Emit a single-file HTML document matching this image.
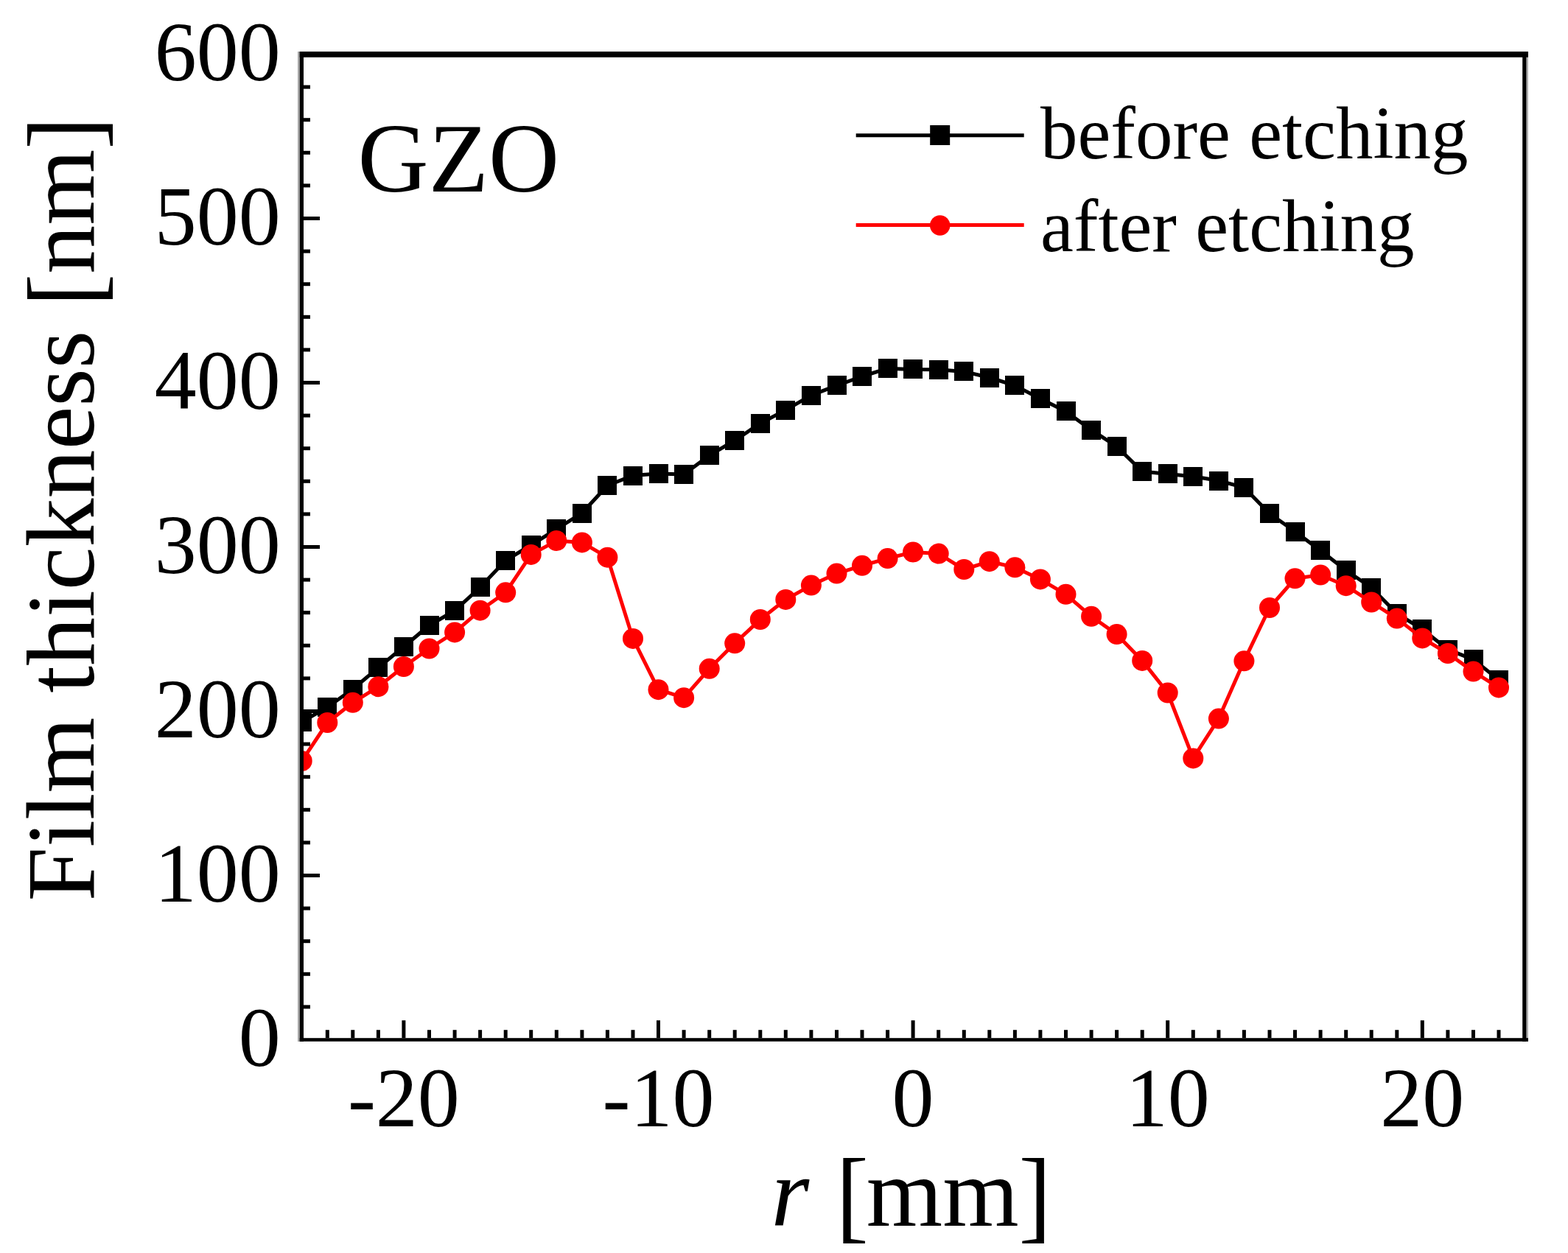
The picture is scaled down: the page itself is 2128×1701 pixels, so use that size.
<!DOCTYPE html>
<html><head><meta charset="utf-8"><title>Film thickness GZO</title>
<style>
html,body{margin:0;padding:0;background:#fff;}
body{width:2128px;height:1701px;overflow:hidden;}
svg{display:block;}
text{font-family:"Liberation Serif","Times New Roman",serif;fill:#000;}
</style></head><body>
<svg width="2128" height="1701" viewBox="0 0 2128 1701">
<rect x="0" y="0" width="2128" height="1701" fill="#fff"/>
<defs><clipPath id="pc"><rect x="412" y="78" width="1654" height="1331"/></clipPath></defs>
<g clip-path="url(#pc)">
<polyline points="409.7,980.0 444.3,960.0 478.8,935.5 513.4,906.4 547.9,878.0 582.5,849.0 617.1,829.0 651.6,797.3 686.2,760.9 720.7,740.0 755.3,718.3 789.9,696.5 824.4,659.0 859.0,645.6 893.5,642.9 928.1,644.0 962.7,618.2 997.2,598.0 1031.8,574.7 1066.3,556.6 1100.9,536.7 1135.5,523.4 1170.0,511.0 1204.6,500.2 1239.1,501.4 1273.7,501.7 1308.3,504.4 1342.8,512.5 1377.4,523.4 1411.9,541.2 1446.5,558.4 1481.1,583.7 1515.6,606.2 1550.2,640.0 1584.7,643.4 1619.3,646.8 1653.9,652.5 1688.4,661.8 1723.0,697.2 1757.5,721.5 1792.1,747.3 1826.7,774.3 1861.2,797.7 1895.8,833.0 1930.3,854.1 1964.9,881.7 1999.5,895.3 2034.0,922.9" fill="none" stroke="#000" stroke-width="5.0" stroke-linejoin="round"/>
<g fill="#000" shape-rendering="crispEdges"><rect x="396.7" y="967.0" width="26.0" height="26.0"/><rect x="431.3" y="947.0" width="26.0" height="26.0"/><rect x="465.8" y="922.5" width="26.0" height="26.0"/><rect x="500.4" y="893.4" width="26.0" height="26.0"/><rect x="534.9" y="865.0" width="26.0" height="26.0"/><rect x="569.5" y="836.0" width="26.0" height="26.0"/><rect x="604.1" y="816.0" width="26.0" height="26.0"/><rect x="638.6" y="784.3" width="26.0" height="26.0"/><rect x="673.2" y="747.9" width="26.0" height="26.0"/><rect x="707.7" y="727.0" width="26.0" height="26.0"/><rect x="742.3" y="705.3" width="26.0" height="26.0"/><rect x="776.9" y="683.5" width="26.0" height="26.0"/><rect x="811.4" y="646.0" width="26.0" height="26.0"/><rect x="846.0" y="632.6" width="26.0" height="26.0"/><rect x="880.5" y="629.9" width="26.0" height="26.0"/><rect x="915.1" y="631.0" width="26.0" height="26.0"/><rect x="949.7" y="605.2" width="26.0" height="26.0"/><rect x="984.2" y="585.0" width="26.0" height="26.0"/><rect x="1018.8" y="561.7" width="26.0" height="26.0"/><rect x="1053.3" y="543.6" width="26.0" height="26.0"/><rect x="1087.9" y="523.7" width="26.0" height="26.0"/><rect x="1122.5" y="510.4" width="26.0" height="26.0"/><rect x="1157.0" y="498.0" width="26.0" height="26.0"/><rect x="1191.6" y="487.2" width="26.0" height="26.0"/><rect x="1226.1" y="488.4" width="26.0" height="26.0"/><rect x="1260.7" y="488.7" width="26.0" height="26.0"/><rect x="1295.3" y="491.4" width="26.0" height="26.0"/><rect x="1329.8" y="499.5" width="26.0" height="26.0"/><rect x="1364.4" y="510.4" width="26.0" height="26.0"/><rect x="1398.9" y="528.2" width="26.0" height="26.0"/><rect x="1433.5" y="545.4" width="26.0" height="26.0"/><rect x="1468.1" y="570.7" width="26.0" height="26.0"/><rect x="1502.6" y="593.2" width="26.0" height="26.0"/><rect x="1537.2" y="627.0" width="26.0" height="26.0"/><rect x="1571.7" y="630.4" width="26.0" height="26.0"/><rect x="1606.3" y="633.8" width="26.0" height="26.0"/><rect x="1640.9" y="639.5" width="26.0" height="26.0"/><rect x="1675.4" y="648.8" width="26.0" height="26.0"/><rect x="1710.0" y="684.2" width="26.0" height="26.0"/><rect x="1744.5" y="708.5" width="26.0" height="26.0"/><rect x="1779.1" y="734.3" width="26.0" height="26.0"/><rect x="1813.7" y="761.3" width="26.0" height="26.0"/><rect x="1848.2" y="784.7" width="26.0" height="26.0"/><rect x="1882.8" y="820.0" width="26.0" height="26.0"/><rect x="1917.3" y="841.1" width="26.0" height="26.0"/><rect x="1951.9" y="868.7" width="26.0" height="26.0"/><rect x="1986.5" y="882.3" width="26.0" height="26.0"/><rect x="2021.0" y="909.9" width="26.0" height="26.0"/></g>
<polyline points="409.7,1033.0 444.3,981.0 478.8,953.8 513.4,932.2 547.9,905.0 582.5,880.5 617.1,858.4 651.6,828.7 686.2,804.3 720.7,752.9 755.3,734.1 789.9,736.4 824.4,756.7 859.0,866.9 893.5,936.2 928.1,947.2 962.7,907.8 997.2,873.3 1031.8,841.0 1066.3,813.9 1100.9,794.6 1135.5,778.6 1170.0,767.8 1204.6,758.1 1239.1,749.5 1273.7,751.6 1308.3,773.0 1342.8,762.2 1377.4,770.3 1411.9,786.4 1446.5,806.8 1481.1,836.8 1515.6,861.1 1550.2,896.9 1584.7,940.5 1619.3,1029.4 1653.9,975.6 1688.4,897.3 1723.0,825.0 1757.5,785.3 1792.1,780.5 1826.7,795.2 1861.2,817.5 1895.8,839.6 1930.3,866.4 1964.9,887.0 1999.5,911.6 2034.0,933.4" fill="none" stroke="#f00" stroke-width="5.0" stroke-linejoin="round"/>
<circle cx="409.7" cy="1033.0" r="14.00" fill="#f00"/><circle cx="444.3" cy="981.0" r="14.00" fill="#f00"/><circle cx="478.8" cy="953.8" r="14.00" fill="#f00"/><circle cx="513.4" cy="932.2" r="14.00" fill="#f00"/><circle cx="547.9" cy="905.0" r="14.00" fill="#f00"/><circle cx="582.5" cy="880.5" r="14.00" fill="#f00"/><circle cx="617.1" cy="858.4" r="14.00" fill="#f00"/><circle cx="651.6" cy="828.7" r="14.00" fill="#f00"/><circle cx="686.2" cy="804.3" r="14.00" fill="#f00"/><circle cx="720.7" cy="752.9" r="14.00" fill="#f00"/><circle cx="755.3" cy="734.1" r="14.00" fill="#f00"/><circle cx="789.9" cy="736.4" r="14.00" fill="#f00"/><circle cx="824.4" cy="756.7" r="14.00" fill="#f00"/><circle cx="859.0" cy="866.9" r="14.00" fill="#f00"/><circle cx="893.5" cy="936.2" r="14.00" fill="#f00"/><circle cx="928.1" cy="947.2" r="14.00" fill="#f00"/><circle cx="962.7" cy="907.8" r="14.00" fill="#f00"/><circle cx="997.2" cy="873.3" r="14.00" fill="#f00"/><circle cx="1031.8" cy="841.0" r="14.00" fill="#f00"/><circle cx="1066.3" cy="813.9" r="14.00" fill="#f00"/><circle cx="1100.9" cy="794.6" r="14.00" fill="#f00"/><circle cx="1135.5" cy="778.6" r="14.00" fill="#f00"/><circle cx="1170.0" cy="767.8" r="14.00" fill="#f00"/><circle cx="1204.6" cy="758.1" r="14.00" fill="#f00"/><circle cx="1239.1" cy="749.5" r="14.00" fill="#f00"/><circle cx="1273.7" cy="751.6" r="14.00" fill="#f00"/><circle cx="1308.3" cy="773.0" r="14.00" fill="#f00"/><circle cx="1342.8" cy="762.2" r="14.00" fill="#f00"/><circle cx="1377.4" cy="770.3" r="14.00" fill="#f00"/><circle cx="1411.9" cy="786.4" r="14.00" fill="#f00"/><circle cx="1446.5" cy="806.8" r="14.00" fill="#f00"/><circle cx="1481.1" cy="836.8" r="14.00" fill="#f00"/><circle cx="1515.6" cy="861.1" r="14.00" fill="#f00"/><circle cx="1550.2" cy="896.9" r="14.00" fill="#f00"/><circle cx="1584.7" cy="940.5" r="14.00" fill="#f00"/><circle cx="1619.3" cy="1029.4" r="14.00" fill="#f00"/><circle cx="1653.9" cy="975.6" r="14.00" fill="#f00"/><circle cx="1688.4" cy="897.3" r="14.00" fill="#f00"/><circle cx="1723.0" cy="825.0" r="14.00" fill="#f00"/><circle cx="1757.5" cy="785.3" r="14.00" fill="#f00"/><circle cx="1792.1" cy="780.5" r="14.00" fill="#f00"/><circle cx="1826.7" cy="795.2" r="14.00" fill="#f00"/><circle cx="1861.2" cy="817.5" r="14.00" fill="#f00"/><circle cx="1895.8" cy="839.6" r="14.00" fill="#f00"/><circle cx="1930.3" cy="866.4" r="14.00" fill="#f00"/><circle cx="1964.9" cy="887.0" r="14.00" fill="#f00"/><circle cx="1999.5" cy="911.6" r="14.00" fill="#f00"/><circle cx="2034.0" cy="933.4" r="14.00" fill="#f00"/>
</g>
<rect x="404" y="70" width="2.7" height="1344" fill="#a8a8a8"/>
<rect x="2071.5" y="78" width="2.5" height="1336" fill="#b0b0b0"/>
<rect x="406.7" y="70" width="5.3" height="1344" fill="#000"/>
<rect x="2066.2" y="70" width="5.3" height="1344" fill="#000"/>
<rect x="406.7" y="70" width="1667.3" height="7.8" fill="#000"/>
<rect x="406.7" y="1409.2" width="1667.3" height="4.6" fill="#000"/>
<rect x="412" y="1364.4" width="9" height="5" fill="#000"/><rect x="412" y="1319.8" width="9" height="5" fill="#000"/><rect x="412" y="1275.2" width="9" height="5" fill="#000"/><rect x="412" y="1230.6" width="9" height="5" fill="#000"/><rect x="412" y="1186.0" width="22" height="5" fill="#000"/><rect x="412" y="1141.4" width="9" height="5" fill="#000"/><rect x="412" y="1096.8" width="9" height="5" fill="#000"/><rect x="412" y="1052.2" width="9" height="5" fill="#000"/><rect x="412" y="1007.6" width="9" height="5" fill="#000"/><rect x="412" y="963.0" width="22" height="5" fill="#000"/><rect x="412" y="918.4" width="9" height="5" fill="#000"/><rect x="412" y="873.8" width="9" height="5" fill="#000"/><rect x="412" y="829.2" width="9" height="5" fill="#000"/><rect x="412" y="784.6" width="9" height="5" fill="#000"/><rect x="412" y="740.0" width="22" height="5" fill="#000"/><rect x="412" y="695.4" width="9" height="5" fill="#000"/><rect x="412" y="650.8" width="9" height="5" fill="#000"/><rect x="412" y="606.2" width="9" height="5" fill="#000"/><rect x="412" y="561.6" width="9" height="5" fill="#000"/><rect x="412" y="517.0" width="22" height="5" fill="#000"/><rect x="412" y="472.4" width="9" height="5" fill="#000"/><rect x="412" y="427.8" width="9" height="5" fill="#000"/><rect x="412" y="383.2" width="9" height="5" fill="#000"/><rect x="412" y="338.6" width="9" height="5" fill="#000"/><rect x="412" y="294.0" width="22" height="5" fill="#000"/><rect x="412" y="249.4" width="9" height="5" fill="#000"/><rect x="412" y="204.8" width="9" height="5" fill="#000"/><rect x="412" y="160.2" width="9" height="5" fill="#000"/><rect x="412" y="115.6" width="9" height="5" fill="#000"/>
<rect x="441.8" y="1398.2" width="5" height="11" fill="#000"/><rect x="476.3" y="1398.2" width="5" height="11" fill="#000"/><rect x="510.9" y="1398.2" width="5" height="11" fill="#000"/><rect x="545.4" y="1385.2" width="5" height="24" fill="#000"/><rect x="580.0" y="1398.2" width="5" height="11" fill="#000"/><rect x="614.6" y="1398.2" width="5" height="11" fill="#000"/><rect x="649.1" y="1398.2" width="5" height="11" fill="#000"/><rect x="683.7" y="1398.2" width="5" height="11" fill="#000"/><rect x="718.2" y="1398.2" width="5" height="11" fill="#000"/><rect x="752.8" y="1398.2" width="5" height="11" fill="#000"/><rect x="787.4" y="1398.2" width="5" height="11" fill="#000"/><rect x="821.9" y="1398.2" width="5" height="11" fill="#000"/><rect x="856.5" y="1398.2" width="5" height="11" fill="#000"/><rect x="891.0" y="1385.2" width="5" height="24" fill="#000"/><rect x="925.6" y="1398.2" width="5" height="11" fill="#000"/><rect x="960.2" y="1398.2" width="5" height="11" fill="#000"/><rect x="994.7" y="1398.2" width="5" height="11" fill="#000"/><rect x="1029.3" y="1398.2" width="5" height="11" fill="#000"/><rect x="1063.8" y="1398.2" width="5" height="11" fill="#000"/><rect x="1098.4" y="1398.2" width="5" height="11" fill="#000"/><rect x="1133.0" y="1398.2" width="5" height="11" fill="#000"/><rect x="1167.5" y="1398.2" width="5" height="11" fill="#000"/><rect x="1202.1" y="1398.2" width="5" height="11" fill="#000"/><rect x="1236.6" y="1385.2" width="5" height="24" fill="#000"/><rect x="1271.2" y="1398.2" width="5" height="11" fill="#000"/><rect x="1305.8" y="1398.2" width="5" height="11" fill="#000"/><rect x="1340.3" y="1398.2" width="5" height="11" fill="#000"/><rect x="1374.9" y="1398.2" width="5" height="11" fill="#000"/><rect x="1409.4" y="1398.2" width="5" height="11" fill="#000"/><rect x="1444.0" y="1398.2" width="5" height="11" fill="#000"/><rect x="1478.6" y="1398.2" width="5" height="11" fill="#000"/><rect x="1513.1" y="1398.2" width="5" height="11" fill="#000"/><rect x="1547.7" y="1398.2" width="5" height="11" fill="#000"/><rect x="1582.2" y="1385.2" width="5" height="24" fill="#000"/><rect x="1616.8" y="1398.2" width="5" height="11" fill="#000"/><rect x="1651.4" y="1398.2" width="5" height="11" fill="#000"/><rect x="1685.9" y="1398.2" width="5" height="11" fill="#000"/><rect x="1720.5" y="1398.2" width="5" height="11" fill="#000"/><rect x="1755.0" y="1398.2" width="5" height="11" fill="#000"/><rect x="1789.6" y="1398.2" width="5" height="11" fill="#000"/><rect x="1824.2" y="1398.2" width="5" height="11" fill="#000"/><rect x="1858.7" y="1398.2" width="5" height="11" fill="#000"/><rect x="1893.3" y="1398.2" width="5" height="11" fill="#000"/><rect x="1927.8" y="1385.2" width="5" height="24" fill="#000"/><rect x="1962.4" y="1398.2" width="5" height="11" fill="#000"/><rect x="1997.0" y="1398.2" width="5" height="11" fill="#000"/><rect x="2031.5" y="1398.2" width="5" height="11" fill="#000"/>
<text x="380.8" y="1446.9" font-size="114" text-anchor="end">0</text>
<text x="380.8" y="1223.9" font-size="114" text-anchor="end">100</text>
<text x="380.8" y="1000.9" font-size="114" text-anchor="end">200</text>
<text x="380.8" y="777.9" font-size="114" text-anchor="end">300</text>
<text x="380.8" y="554.9" font-size="114" text-anchor="end">400</text>
<text x="380.8" y="331.9" font-size="114" text-anchor="end">500</text>
<text x="380.8" y="108.9" font-size="114" text-anchor="end">600</text>
<text x="547.9" y="1529.4" font-size="114" text-anchor="middle">-20</text>
<text x="893.5" y="1529.4" font-size="114" text-anchor="middle">-10</text>
<text x="1239.1" y="1529.4" font-size="114" text-anchor="middle">0</text>
<text x="1584.7" y="1529.4" font-size="114" text-anchor="middle">10</text>
<text x="1930.3" y="1529.4" font-size="114" text-anchor="middle">20</text>
<g transform="translate(126.8,691.2) rotate(-90)" font-size="132.2"><text x="-532.4" y="0">Film thickness</text><text transform="translate(275.5,7.5) scale(1,1.052)">[</text><text x="319.5" y="0">nm</text><text transform="translate(488.4,7.5) scale(1,1.052)">]</text></g>
<g font-size="133"><text x="1046.4" y="1663.5" font-style="italic">r</text><text transform="translate(1134.4,1669.4) scale(1,1.058)">[</text><text x="1175.7" y="1663.5">mm</text><text transform="translate(1382.6,1669.4) scale(1,1.058)">]</text></g>
<text x="485.6" y="259.8" font-size="133">GZO</text>
<line x1="1161.7" y1="183.8" x2="1389.7" y2="183.8" stroke="#000" stroke-width="5"/>
<rect x="1262.2" y="170" width="27" height="27" fill="#000"/>
<text x="1412" y="215.3" font-size="101">before etching</text>
<line x1="1161.7" y1="305.6" x2="1389.7" y2="305.6" stroke="#f00" stroke-width="5"/>
<circle cx="1275.7" cy="306" r="13.7" fill="#f00"/>
<text x="1412" y="341" font-size="101">after etching</text>
</svg>
</body></html>
